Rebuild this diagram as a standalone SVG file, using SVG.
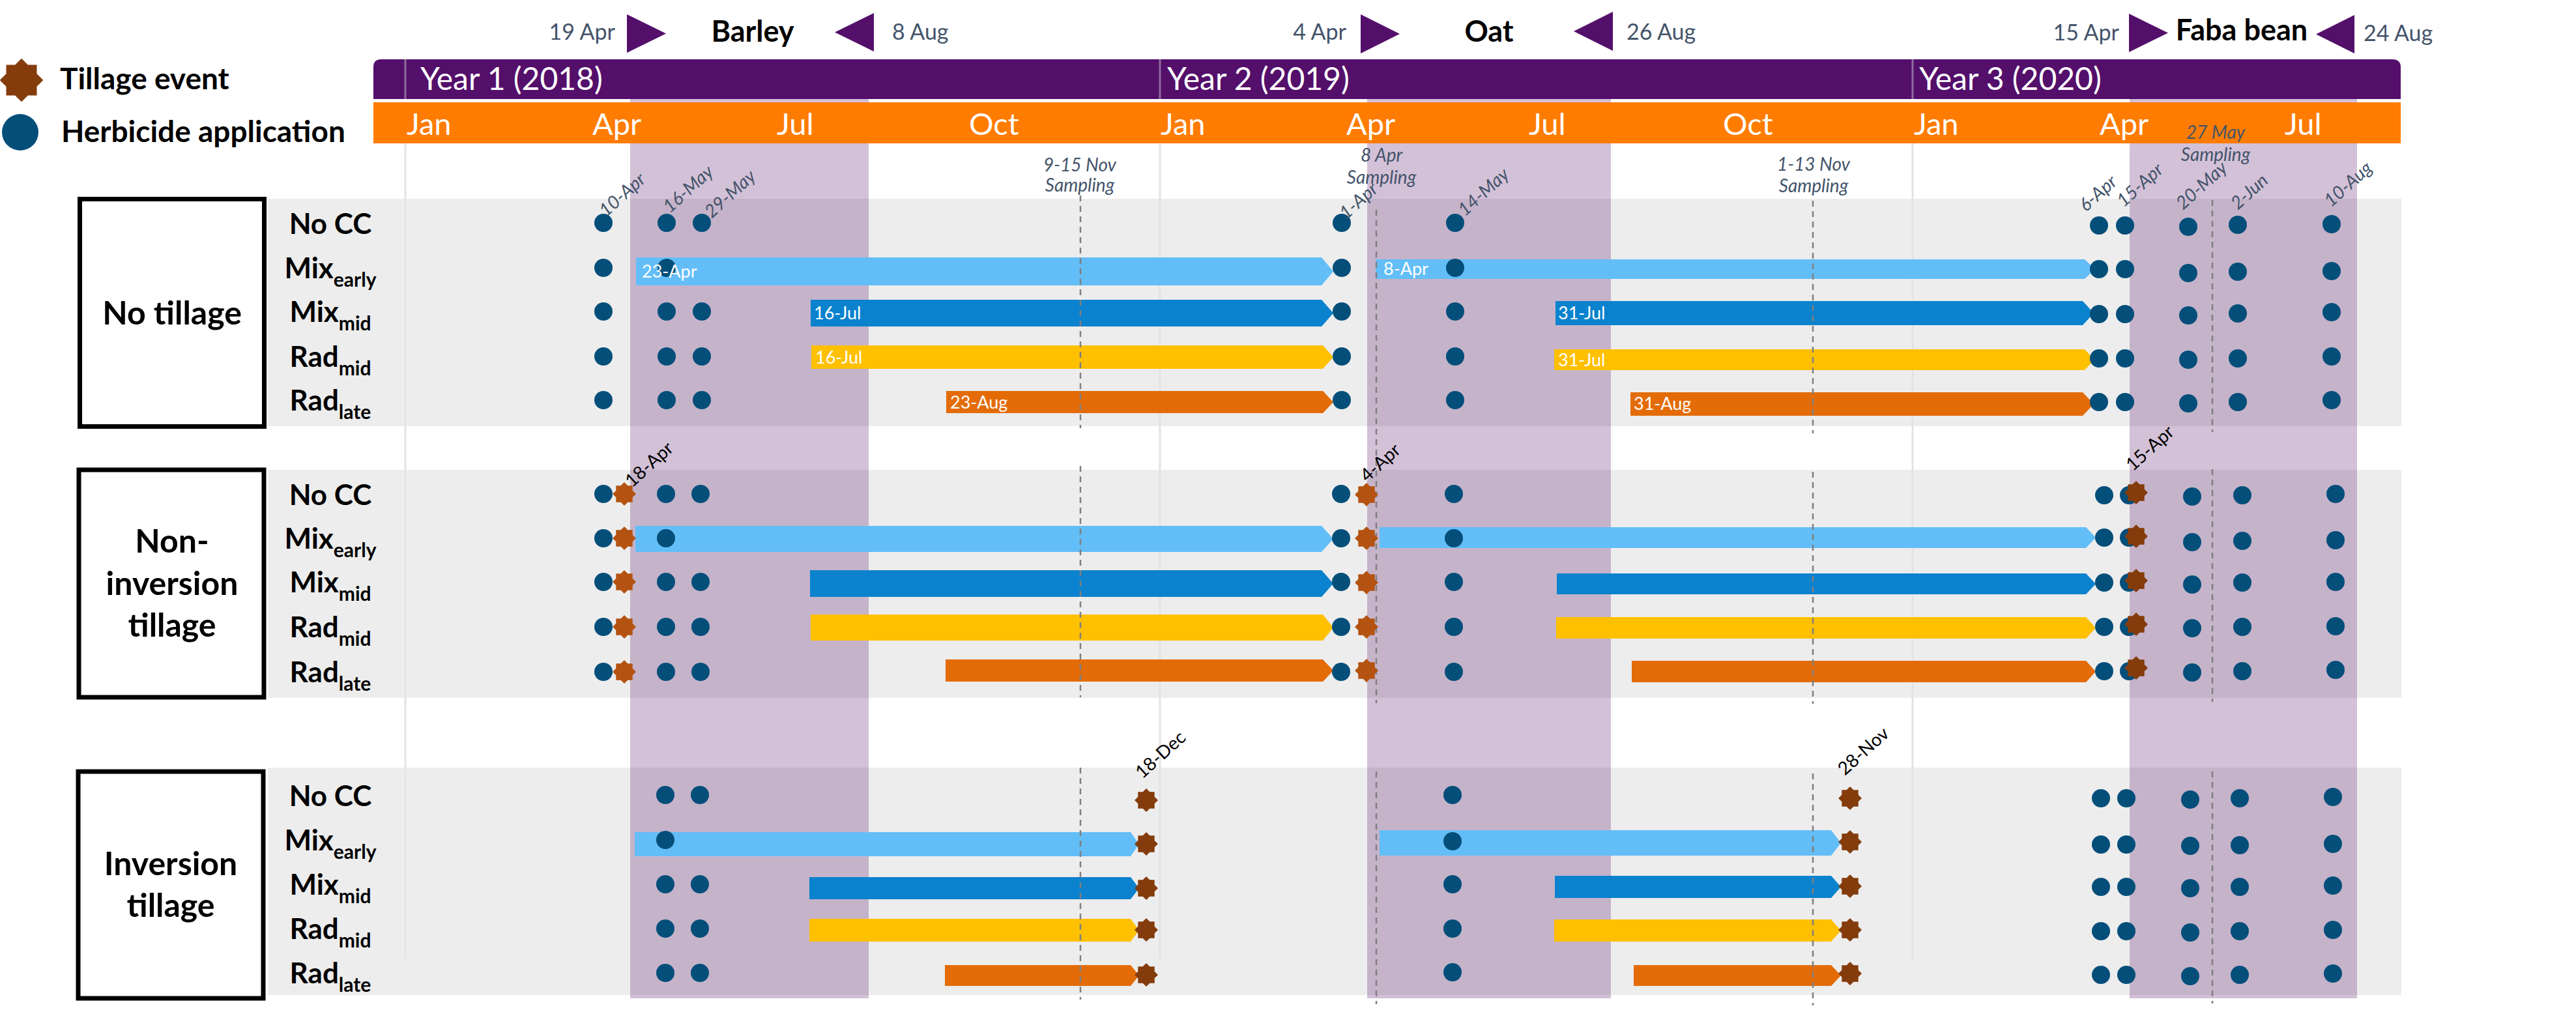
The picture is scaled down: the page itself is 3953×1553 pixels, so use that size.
<svg xmlns="http://www.w3.org/2000/svg" xmlns:xlink="http://www.w3.org/1999/xlink" width="3953" height="1553" viewBox="0 0 3953 1553">
<style>
text{font-family:Lato,"Open Sans","DejaVu Sans",sans-serif}
.dot{fill:#044E7A}
.s1{fill:#B45311}
.s2{fill:#843C0C}
.lb{fill:#63BEF7}
.mb{fill:#0A82CE}
.yb{fill:#FFC000}
.ob{fill:#E36C09}
.band{fill:#551067;fill-opacity:0.26}
.row{fill:#EDEDED}
.grid{stroke:#E3E3E3;stroke-width:3}
.dash{stroke:#7F7F7F;stroke-width:2.5;stroke-dasharray:9 7;fill:none}
.box{fill:#FFFFFF;stroke:#000;stroke-width:7}
.tri{fill:#540F6B}
.rl{font-size:44px;font-weight:bold;text-anchor:middle;fill:#000}
.sub{font-size:30px}
.bx{font-size:50px;font-weight:bold;text-anchor:middle;fill:#000}
.bl{font-size:27px;fill:#FFFFFF}
.dl{font-size:28px;fill:#44546A;font-style:italic}
.kl{font-size:28px;fill:#000}
.samp{font-size:28px;fill:#44546A;font-style:italic;text-anchor:middle}
.mon{font-size:47px;fill:#FFFFFF}
.yr{font-size:48px;fill:#FFFFFF}
.cd{font-size:34px;fill:#44546A}
.crop{font-size:45px;font-weight:bold;fill:#000;text-anchor:middle}
.leg{font-size:46px;font-weight:bold;fill:#000}
</style>
<defs>
<polygon id="star" points="0,-18 5.3,-12.7 12.7,-12.7 12.7,-5.3 18,0 12.7,5.3 12.7,12.7 5.3,12.7 0,18 -5.3,12.7 -12.7,12.7 -12.7,5.3 -18,0 -12.7,-5.3 -12.7,-12.7 -5.3,-12.7"/>
</defs>
<rect width="3953" height="1553" fill="#FFFFFF"/>

<g id="legend">
<use xlink:href="#star" class="s2" transform="translate(33,123) scale(1.85)"/>
<circle cx="31" cy="203" r="28" class="dot"/>
<text class="leg" x="92" y="137">Tillage event</text>
<text class="leg" x="94" y="218">Herbicide application</text>
</g>

<g id="row-backgrounds">
<rect class="row" x="411" y="305" width="3274" height="349"/>
<rect class="row" x="411" y="721" width="3274" height="350"/>
<rect class="row" x="411" y="1178" width="3274" height="349"/>
</g>

<g id="gridlines">
<line class="grid" x1="622" y1="220" x2="622" y2="1472"/>
<line class="grid" x1="1780" y1="220" x2="1780" y2="1472"/>
<line class="grid" x1="2935" y1="220" x2="2935" y2="1472"/>
</g>

<g id="crop-bands">
<rect class="band" x="967" y="152" width="366" height="1380"/>
<rect class="band" x="2098" y="152" width="374" height="1380"/>
<rect class="band" x="3268" y="152" width="349" height="1380"/>
</g>

<g id="timeline">
<path d="M573,152 V103 Q573,91 585,91 H3671 Q3684,91 3684,103 V152 Z" fill="#540F6B"/>
<line x1="622" y1="91" x2="622" y2="152" stroke="#8E6D9C" stroke-width="3"/>
<line x1="1780" y1="91" x2="1780" y2="152" stroke="#8E6D9C" stroke-width="3"/>
<line x1="2935" y1="91" x2="2935" y2="152" stroke="#8E6D9C" stroke-width="3"/>
<text class="yr" x="645" y="138">Year 1 (2018)</text>
<text class="yr" x="1791" y="138">Year 2 (2019)</text>
<text class="yr" x="2945" y="138">Year 3 (2020)</text>
<rect x="573" y="157" width="3111" height="63" fill="#FF7C00"/>
<text class="mon" x="624" y="207">Jan</text>
<text class="mon" x="909" y="207">Apr</text>
<text class="mon" x="1192" y="207">Jul</text>
<text class="mon" x="1487" y="207">Oct</text>
<text class="mon" x="1781" y="207">Jan</text>
<text class="mon" x="2066" y="207">Apr</text>
<text class="mon" x="2346" y="207">Jul</text>
<text class="mon" x="2644" y="207">Oct</text>
<text class="mon" x="2937" y="207">Jan</text>
<text class="mon" x="3222" y="207">Apr</text>
<text class="mon" x="3506" y="207">Jul</text>
</g>

<g id="crops">
<text class="cd" x="944" y="61" text-anchor="end">19 Apr</text>
<polygon class="tri" points="962,22 1022,51.5 962,81"/>
<text class="crop" x="1155" y="64">Barley</text>
<polygon class="tri" points="1341,20 1281,49.5 1341,79"/>
<text class="cd" x="1369" y="61">8 Aug</text>
<text class="cd" x="2066" y="61" text-anchor="end">4 Apr</text>
<polygon class="tri" points="2088,22 2148,52 2088,82"/>
<text class="crop" x="2285" y="64">Oat</text>
<polygon class="tri" points="2475,18 2415,48 2475,78"/>
<text class="cd" x="2496" y="61">26 Aug</text>
<text class="cd" x="3252" y="62" text-anchor="end">15 Apr</text>
<polygon class="tri" points="3267,21 3327,50.5 3267,80"/>
<text class="crop" x="3440" y="62">Faba bean</text>
<polygon class="tri" points="3613,23 3554,52.5 3613,82"/>
<text class="cd" x="3627" y="63">24 Aug</text>
</g>

<g id="sampling">
<text class="samp" x="1657" y="263">9-15 Nov</text>
<text class="samp" x="1657" y="294">Sampling</text>
<text class="samp" x="2120" y="248">8 Apr</text>
<text class="samp" x="2120" y="282">Sampling</text>
<text class="samp" x="2783" y="262">1-13 Nov</text>
<text class="samp" x="2783" y="295">Sampling</text>
<text class="samp" x="3400" y="213">27 May</text>
<text class="samp" x="3400" y="247">Sampling</text>
</g>

<g id="group-no-tillage">
<rect class="box" x="122.5" y="305.5" width="283" height="349"/>
<text class="bx" x="264" y="498">No tillage</text>
<text class="rl" x="507" y="359">No CC</text>
<text class="rl" x="507" y="427">Mix<tspan class="sub" dy="13">early</tspan></text>
<text class="rl" x="507" y="494">Mix<tspan class="sub" dy="13">mid</tspan></text>
<text class="rl" x="507" y="563">Rad<tspan class="sub" dy="13">mid</tspan></text>
<text class="rl" x="507" y="630">Rad<tspan class="sub" dy="13">late</tspan></text>
</g>

<g id="group-non-inversion">
<rect class="box" x="121" y="721" width="284" height="349"/>
<text class="bx" x="264" y="848">Non-</text>
<text class="bx" x="264" y="913">inversion</text>
<text class="bx" x="264" y="977">tillage</text>
<text class="rl" x="507" y="775">No CC</text>
<text class="rl" x="507" y="842">Mix<tspan class="sub" dy="13">early</tspan></text>
<text class="rl" x="507" y="909">Mix<tspan class="sub" dy="13">mid</tspan></text>
<text class="rl" x="507" y="978">Rad<tspan class="sub" dy="13">mid</tspan></text>
<text class="rl" x="507" y="1047">Rad<tspan class="sub" dy="13">late</tspan></text>
</g>

<g id="group-inversion">
<rect class="box" x="120" y="1184" width="284" height="348"/>
<text class="bx" x="262" y="1343">Inversion</text>
<text class="bx" x="262" y="1407">tillage</text>
<text class="rl" x="507" y="1237">No CC</text>
<text class="rl" x="507" y="1305">Mix<tspan class="sub" dy="13">early</tspan></text>
<text class="rl" x="507" y="1373">Mix<tspan class="sub" dy="13">mid</tspan></text>
<text class="rl" x="507" y="1441">Rad<tspan class="sub" dy="13">mid</tspan></text>
<text class="rl" x="507" y="1509">Rad<tspan class="sub" dy="13">late</tspan></text>
</g>

<g id="cover-crop-bars">
<polygon class="lb" points="976,395 2028,395 2046,416.5 2028,438 976,438"/>
<polygon class="mb" points="1244,460 2028,460 2046,480.5 2028,501 1244,501"/>
<polygon class="yb" points="1245,530 2030,530 2046,548 2030,566 1245,566"/>
<polygon class="ob" points="1452,600 2030,600 2046,617 2030,634 1452,634"/>
<polygon class="lb" points="2111,398 3199,398 3215,413 3199,428 2111,428"/>
<polygon class="mb" points="2387,462 3196,462 3213,480.5 3196,499 2387,499"/>
<polygon class="yb" points="2385,536 3199,536 3214,552 3199,568 2385,568"/>
<polygon class="ob" points="2502,602 3196,602 3213,620 3196,638 2502,638"/>
<polygon class="lb" points="975,807 2028,807 2046,827 2028,847 975,847"/>
<polygon class="mb" points="1243,875 2028,875 2046,895.5 2028,916 1243,916"/>
<polygon class="yb" points="1244,943 2030,943 2046,963 2030,983 1244,983"/>
<polygon class="ob" points="1451,1012 2030,1012 2046,1029 2030,1046 1451,1046"/>
<polygon class="lb" points="2117,809 3201,809 3216,825 3201,841 2117,841"/>
<polygon class="mb" points="2389,880 3201,880 3216,896 3201,912 2389,912"/>
<polygon class="yb" points="2388,947 3201,947 3216,963.5 3201,980 2388,980"/>
<polygon class="ob" points="2504,1014 3201,1014 3216,1030.5 3201,1047 2504,1047"/>
<polygon class="lb" points="974,1277 1735,1277 1748,1295.5 1735,1314 974,1314"/>
<polygon class="mb" points="1242,1346 1735,1346 1748,1363 1735,1380 1242,1380"/>
<polygon class="yb" points="1242,1410 1735,1410 1748,1427.5 1735,1445 1242,1445"/>
<polygon class="ob" points="1450,1481 1735,1481 1748,1497 1735,1513 1450,1513"/>
<polygon class="lb" points="2117,1274 2810,1274 2825,1293.5 2810,1313 2117,1313"/>
<polygon class="mb" points="2386,1344 2810,1344 2825,1361 2810,1378 2386,1378"/>
<polygon class="yb" points="2385,1411 2810,1411 2825,1428 2810,1445 2385,1445"/>
<polygon class="ob" points="2507,1481 2810,1481 2825,1497 2810,1513 2507,1513"/>
</g>

<g id="sampling-lines">
<line class="dash" x1="1658" y1="300" x2="1658" y2="657"/>
<line class="dash" x1="1658" y1="715" x2="1658" y2="1070"/>
<line class="dash" x1="1658" y1="1178" x2="1658" y2="1534"/>
<line class="dash" x1="2112" y1="322" x2="2112" y2="1079"/>
<line class="dash" x1="2112" y1="1184" x2="2112" y2="1541"/>
<line class="dash" x1="2782" y1="308" x2="2782" y2="665"/>
<line class="dash" x1="2782" y1="724" x2="2782" y2="1080"/>
<line class="dash" x1="2782" y1="1187" x2="2782" y2="1543"/>
<line class="dash" x1="3395" y1="307" x2="3395" y2="663"/>
<line class="dash" x1="3395" y1="720" x2="3395" y2="1077"/>
<line class="dash" x1="3395" y1="1184" x2="3395" y2="1540"/>
</g>

<g id="herbicide-no-tillage">
<circle class="dot" cx="926" cy="342" r="14"/><circle class="dot" cx="1023" cy="342" r="14"/><circle class="dot" cx="1077" cy="342" r="14"/>
<circle class="dot" cx="926" cy="411" r="14"/><circle class="dot" cx="1023" cy="411" r="14"/>
<circle class="dot" cx="926" cy="478" r="14"/><circle class="dot" cx="1023" cy="478" r="14"/><circle class="dot" cx="1077" cy="478" r="14"/>
<circle class="dot" cx="926" cy="547" r="14"/><circle class="dot" cx="1023" cy="547" r="14"/><circle class="dot" cx="1077" cy="547" r="14"/>
<circle class="dot" cx="926" cy="614" r="14"/><circle class="dot" cx="1023" cy="614" r="14"/><circle class="dot" cx="1077" cy="614" r="14"/>
<circle class="dot" cx="2059" cy="342" r="14"/><circle class="dot" cx="2233" cy="342" r="14"/>
<circle class="dot" cx="2059" cy="411" r="14"/><circle class="dot" cx="2233" cy="411" r="14"/>
<circle class="dot" cx="2059" cy="478" r="14"/><circle class="dot" cx="2233" cy="478" r="14"/>
<circle class="dot" cx="2059" cy="547" r="14"/><circle class="dot" cx="2233" cy="547" r="14"/>
<circle class="dot" cx="2059" cy="614" r="14"/><circle class="dot" cx="2233" cy="614" r="14"/>
<circle class="dot" cx="3221" cy="346" r="14"/><circle class="dot" cx="3261" cy="346" r="14"/><circle class="dot" cx="3358" cy="348" r="14"/><circle class="dot" cx="3434" cy="345" r="14"/><circle class="dot" cx="3578" cy="344" r="14"/>
<circle class="dot" cx="3221" cy="413" r="14"/><circle class="dot" cx="3261" cy="413" r="14"/><circle class="dot" cx="3358" cy="419" r="14"/><circle class="dot" cx="3434" cy="417" r="14"/><circle class="dot" cx="3578" cy="416" r="14"/>
<circle class="dot" cx="3221" cy="482" r="14"/><circle class="dot" cx="3261" cy="482" r="14"/><circle class="dot" cx="3358" cy="484" r="14"/><circle class="dot" cx="3434" cy="481" r="14"/><circle class="dot" cx="3578" cy="479" r="14"/>
<circle class="dot" cx="3221" cy="550" r="14"/><circle class="dot" cx="3261" cy="550" r="14"/><circle class="dot" cx="3358" cy="552" r="14"/><circle class="dot" cx="3434" cy="550" r="14"/><circle class="dot" cx="3578" cy="547" r="14"/>
<circle class="dot" cx="3221" cy="617" r="14"/><circle class="dot" cx="3261" cy="617" r="14"/><circle class="dot" cx="3358" cy="619" r="14"/><circle class="dot" cx="3434" cy="617" r="14"/><circle class="dot" cx="3578" cy="614" r="14"/>
</g>

<g id="herbicide-non-inversion">
<circle class="dot" cx="926" cy="758" r="14"/><circle class="dot" cx="1022" cy="758" r="14"/><circle class="dot" cx="1075" cy="758" r="14"/>
<circle class="dot" cx="926" cy="826" r="14"/><circle class="dot" cx="1022" cy="826" r="14"/>
<circle class="dot" cx="926" cy="893" r="14"/><circle class="dot" cx="1022" cy="893" r="14"/><circle class="dot" cx="1075" cy="893" r="14"/>
<circle class="dot" cx="926" cy="962" r="14"/><circle class="dot" cx="1022" cy="962" r="14"/><circle class="dot" cx="1075" cy="962" r="14"/>
<circle class="dot" cx="926" cy="1031" r="14"/><circle class="dot" cx="1022" cy="1031" r="14"/><circle class="dot" cx="1075" cy="1031" r="14"/>
<circle class="dot" cx="2058" cy="758" r="14"/><circle class="dot" cx="2231" cy="758" r="14"/>
<circle class="dot" cx="2058" cy="826" r="14"/><circle class="dot" cx="2231" cy="826" r="14"/>
<circle class="dot" cx="2058" cy="893" r="14"/><circle class="dot" cx="2231" cy="893" r="14"/>
<circle class="dot" cx="2058" cy="962" r="14"/><circle class="dot" cx="2231" cy="962" r="14"/>
<circle class="dot" cx="2058" cy="1031" r="14"/><circle class="dot" cx="2231" cy="1031" r="14"/>
<circle class="dot" cx="3229" cy="760" r="14"/><circle class="dot" cx="3267" cy="760" r="14"/><circle class="dot" cx="3364" cy="762" r="14"/><circle class="dot" cx="3441" cy="760" r="14"/><circle class="dot" cx="3584" cy="758" r="14"/>
<circle class="dot" cx="3229" cy="825" r="14"/><circle class="dot" cx="3267" cy="825" r="14"/><circle class="dot" cx="3364" cy="832" r="14"/><circle class="dot" cx="3441" cy="830" r="14"/><circle class="dot" cx="3584" cy="829" r="14"/>
<circle class="dot" cx="3229" cy="894" r="14"/><circle class="dot" cx="3267" cy="894" r="14"/><circle class="dot" cx="3364" cy="897" r="14"/><circle class="dot" cx="3441" cy="894" r="14"/><circle class="dot" cx="3584" cy="893" r="14"/>
<circle class="dot" cx="3229" cy="962" r="14"/><circle class="dot" cx="3267" cy="962" r="14"/><circle class="dot" cx="3364" cy="964" r="14"/><circle class="dot" cx="3441" cy="962" r="14"/><circle class="dot" cx="3584" cy="961" r="14"/>
<circle class="dot" cx="3229" cy="1030" r="14"/><circle class="dot" cx="3267" cy="1030" r="14"/><circle class="dot" cx="3364" cy="1032" r="14"/><circle class="dot" cx="3441" cy="1030" r="14"/><circle class="dot" cx="3584" cy="1028" r="14"/>
</g>

<g id="herbicide-inversion">
<circle class="dot" cx="1021" cy="1220" r="14"/><circle class="dot" cx="1074" cy="1220" r="14"/>
<circle class="dot" cx="1021" cy="1289" r="14"/>
<circle class="dot" cx="1021" cy="1357" r="14"/><circle class="dot" cx="1074" cy="1357" r="14"/>
<circle class="dot" cx="1021" cy="1425" r="14"/><circle class="dot" cx="1074" cy="1425" r="14"/>
<circle class="dot" cx="1021" cy="1493" r="14"/><circle class="dot" cx="1074" cy="1493" r="14"/>
<circle class="dot" cx="2229" cy="1220" r="14"/>
<circle class="dot" cx="2229" cy="1291" r="14"/>
<circle class="dot" cx="2229" cy="1357" r="14"/>
<circle class="dot" cx="2229" cy="1425" r="14"/>
<circle class="dot" cx="2229" cy="1492" r="14"/>
<circle class="dot" cx="3224" cy="1225" r="14"/><circle class="dot" cx="3263" cy="1225" r="14"/><circle class="dot" cx="3361" cy="1227" r="14"/><circle class="dot" cx="3437" cy="1225" r="14"/><circle class="dot" cx="3580" cy="1223" r="14"/>
<circle class="dot" cx="3224" cy="1296" r="14"/><circle class="dot" cx="3263" cy="1296" r="14"/><circle class="dot" cx="3361" cy="1298" r="14"/><circle class="dot" cx="3437" cy="1297" r="14"/><circle class="dot" cx="3580" cy="1295" r="14"/>
<circle class="dot" cx="3224" cy="1361" r="14"/><circle class="dot" cx="3263" cy="1361" r="14"/><circle class="dot" cx="3361" cy="1363" r="14"/><circle class="dot" cx="3437" cy="1361" r="14"/><circle class="dot" cx="3580" cy="1359" r="14"/>
<circle class="dot" cx="3224" cy="1429" r="14"/><circle class="dot" cx="3263" cy="1429" r="14"/><circle class="dot" cx="3361" cy="1431" r="14"/><circle class="dot" cx="3437" cy="1429" r="14"/><circle class="dot" cx="3580" cy="1427" r="14"/>
<circle class="dot" cx="3224" cy="1496" r="14"/><circle class="dot" cx="3263" cy="1496" r="14"/><circle class="dot" cx="3361" cy="1498" r="14"/><circle class="dot" cx="3437" cy="1496" r="14"/><circle class="dot" cx="3580" cy="1494" r="14"/>
</g>

<g id="tillage-events">
<use xlink:href="#star" class="s1" x="958" y="758"/>
<use xlink:href="#star" class="s1" x="958" y="826"/>
<use xlink:href="#star" class="s1" x="958" y="893"/>
<use xlink:href="#star" class="s1" x="958" y="962"/>
<use xlink:href="#star" class="s1" x="958" y="1031"/>
<use xlink:href="#star" class="s1" x="2097" y="759"/>
<use xlink:href="#star" class="s1" x="2097" y="826"/>
<use xlink:href="#star" class="s1" x="2097" y="894"/>
<use xlink:href="#star" class="s1" x="2097" y="962"/>
<use xlink:href="#star" class="s1" x="2097" y="1029"/>
<use xlink:href="#star" class="s2" x="3278" y="756"/>
<use xlink:href="#star" class="s2" x="3278" y="823"/>
<use xlink:href="#star" class="s2" x="3278" y="891"/>
<use xlink:href="#star" class="s2" x="3278" y="958"/>
<use xlink:href="#star" class="s2" x="3278" y="1025"/>
<use xlink:href="#star" class="s2" x="1759" y="1228"/>
<use xlink:href="#star" class="s2" x="1759" y="1295"/>
<use xlink:href="#star" class="s2" x="1759" y="1363"/>
<use xlink:href="#star" class="s2" x="1759" y="1427"/>
<use xlink:href="#star" class="s2" x="1759" y="1496"/>
<use xlink:href="#star" class="s2" x="2839" y="1225"/>
<use xlink:href="#star" class="s2" x="2839" y="1292"/>
<use xlink:href="#star" class="s2" x="2839" y="1360"/>
<use xlink:href="#star" class="s2" x="2839" y="1427"/>
<use xlink:href="#star" class="s2" x="2839" y="1494"/>
</g>

<g id="bar-labels">
<text class="bl" x="985" y="426">23-Apr</text>
<text class="bl" x="1249" y="490">16-Jul</text>
<text class="bl" x="1251" y="558">16-Jul</text>
<text class="bl" x="1458" y="627">23-Aug</text>
<text class="bl" x="2123" y="422">8-Apr</text>
<text class="bl" x="2391" y="490">31-Jul</text>
<text class="bl" x="2391" y="562">31-Jul</text>
<text class="bl" x="2507" y="629">31-Aug</text>
</g>

<g id="date-labels">
<text class="dl" transform="translate(930,334) rotate(-42)">10-Apr</text>
<text class="dl" transform="translate(1028,328) rotate(-42)">16-May</text>
<text class="dl" transform="translate(1092,336) rotate(-42)">29-May</text>
<text class="dl" transform="translate(2066,338) rotate(-42)">1-Apr</text>
<text class="dl" transform="translate(2248,333) rotate(-42)">14-May</text>
<text class="dl" transform="translate(3201,326) rotate(-42)">6-Apr</text>
<text class="dl" transform="translate(3259,319) rotate(-42)">15-Apr</text>
<text class="dl" transform="translate(3350,323) rotate(-42)">20-May</text>
<text class="dl" transform="translate(3434,323) rotate(-42)">2-Jun</text>
<text class="dl" transform="translate(3577,319) rotate(-42)">10-Aug</text>
<text class="kl" transform="translate(970,749) rotate(-42)">18-Apr</text>
<text class="kl" transform="translate(2098,741) rotate(-42)">4-Apr</text>
<text class="kl" transform="translate(3273,724) rotate(-42)">15-Apr</text>
<text class="kl" transform="translate(1753,1196) rotate(-42)">18-Dec</text>
<text class="kl" transform="translate(2831,1191) rotate(-42)">28-Nov</text>
</g>
</svg>
